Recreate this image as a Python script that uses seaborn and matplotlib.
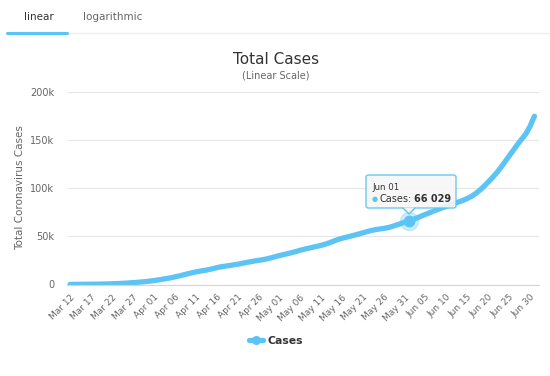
import numpy as np
import pandas as pd
import matplotlib
matplotlib.use("Agg")
import matplotlib.pyplot as plt
import matplotlib.dates as mdates
from matplotlib.lines import Line2D
from matplotlib.patches import FancyBboxPatch, Polygon
from matplotlib.ticker import FuncFormatter
import seaborn as sns

# ---- data (thousands of cases, Mar 12 .. Jul 01) ----
start_date = "2020-03-12"
cases_k = [
    0.1, 0.12, 0.15, 0.2, 0.25,
    0.3, 0.35, 0.42, 0.5, 0.6,
    0.75, 0.9, 1.1, 1.3, 1.6,
    1.9, 2.2, 2.6, 3.0, 3.5,
    4.0, 4.7, 5.4, 6.1, 6.9,
    7.8, 8.8, 9.9, 11.0, 12.0,
    13.0, 13.8, 14.5, 15.3, 16.3,
    17.4, 18.3, 19.0, 19.6, 20.3,
    21.0, 21.8, 22.7, 23.5, 24.3,
    25.0, 25.7, 26.5, 27.6, 28.8,
    30.0, 31.0, 32.0, 33.1, 34.2,
    35.5, 36.6, 37.6, 38.6, 39.6,
    40.6, 41.8, 43.3, 45.0, 46.6,
    47.9, 49.0, 50.1, 51.2, 52.4,
    53.6, 54.9, 56.0, 56.9, 57.6,
    58.2, 59.0, 60.2, 61.7, 63.1, 64.6,
    66.029,
    67.5, 69.2, 71.0, 72.8, 74.5,
    76.3, 78.0, 79.6, 81.1, 82.7,
    84.2, 85.8, 87.4, 89.3, 91.5,
    94.5, 98.0, 102.0, 106.5, 111.0,
    116.0, 121.5, 127.5, 133.5, 139.5,
    145.5, 151.0, 156.5, 164.5, 174.5,
]
dates = pd.date_range(start_date, periods=len(cases_k), freq="D")
df = pd.DataFrame({"date": dates, "cases": np.array(cases_k) * 1000})

tab_labels = ["linear", "logarithmic"]
title = "Total Cases"
subtitle = "(Linear Scale)"
ylabel = "Total Coronavirus Cases"
yticks = [0, 50000, 100000, 150000, 200000]
tooltip_date = "2020-06-01"
tooltip_value = 66029

LINE = "#5cc4f4"
W, H = 550, 376

sns.set_style("white")
plt.rcParams["font.family"] = ["DejaVu Sans"]

fig = plt.figure(figsize=(W / 100, H / 100), dpi=100)
ax = fig.add_axes([66.7 / W, 1 - 284.5 / H, (539 - 66.7) / W, (284.5 - 91.7) / H])

sns.lineplot(data=df, x="date", y="cases", ax=ax, color=LINE, linewidth=3.8,
             solid_capstyle="round", solid_joinstyle="round")

t0 = mdates.date2num(dates[0])
ax.set_xlim(t0 - 0.8, t0 + 112.1)
ax.set_ylim(0, 200000)

# axes styling
for s in ["top", "right", "left"]:
    ax.spines[s].set_visible(False)
ax.spines["bottom"].set_color("#ccd6eb")
ax.spines["bottom"].set_linewidth(0.8)
ax.set_yticks(yticks)
ax.yaxis.set_major_formatter(FuncFormatter(lambda v, p: "0" if v == 0 else f"{int(v/1000)}k"))
ax.grid(axis="y", color="#e6e6e6", linewidth=0.8)
ax.grid(axis="x", visible=False)
ax.tick_params(axis="y", length=0, labelsize=7, labelcolor="#666666", pad=9)
ticks = pd.date_range(start_date, "2020-06-30", freq="5D")
ax.set_xticks(ticks)
ax.set_xticklabels([d.strftime("%b %d") for d in ticks], rotation=45, ha="right",
                   rotation_mode="anchor", fontsize=6.5, color="#666666")
ax.tick_params(axis="x", length=0, pad=6)
ax.set_xlabel("")
ax.set_ylabel("")

# tooltip point with halo
tx = mdates.date2num(pd.Timestamp(tooltip_date))
ax.plot([tx], [tooltip_value], "o", ms=13, color=LINE, alpha=0.3, zorder=5)
ax.plot([tx], [tooltip_value], "o", ms=7.5, color=LINE, zorder=6)

# texts in figure coordinates
def fx(x):
    return x / W

def fy(y):
    return 1 - y / H

fig.text(fx(39), fy(17), tab_labels[0], ha="center", va="center", fontsize=7.5, color="#333333")
fig.text(fx(113), fy(17), tab_labels[1], ha="center", va="center", fontsize=7.5, color="#666666")
fig.add_artist(Line2D([fx(67), fx(550)], [fy(33), fy(33)], color="#eeeeee", linewidth=1))
fig.add_artist(Line2D([fx(7), fx(67)], [fy(33), fy(33)], color=LINE, linewidth=2.2))

fig.text(fx(276), fy(59), title, ha="center", va="center", fontsize=11, color="#333333")
fig.text(fx(276), fy(76), subtitle, ha="center", va="center", fontsize=7, color="#666666")
fig.text(fx(20), fy(188), ylabel, ha="center", va="center", rotation=90,
         fontsize=7.5, color="#666666")

# tooltip box
bx0, by0, bx1, by1 = 366, 175, 456, 208
box = FancyBboxPatch((fx(bx0), fy(by1)), fx(bx1 - bx0), (by1 - by0) / H,
                     boxstyle="round,pad=0,rounding_size=0.005",
                     transform=fig.transFigure, facecolor="#f7f7f7", edgecolor=LINE,
                     linewidth=1, alpha=0.9, zorder=10)
fig.add_artist(box)
tri = Polygon([(fx(403), fy(by1) + 0.5 / H), (fx(415), fy(by1) + 0.5 / H), (fx(409), fy(214))],
              closed=True, transform=fig.transFigure, facecolor="#f7f7f7",
              edgecolor="none", alpha=0.9, zorder=11)
fig.add_artist(tri)
fig.add_artist(Line2D([fx(403), fx(409), fx(415)], [fy(by1), fy(214), fy(by1)],
                      color=LINE, linewidth=1, zorder=12))
fig.text(fx(372), fy(187), pd.Timestamp(tooltip_date).strftime("%b %d"), ha="left",
         va="center", fontsize=6.2, color="#333333", zorder=13)
fig.text(fx(375), fy(199.5), "\u25cf", ha="center", va="center", fontsize=5,
         color=LINE, zorder=13)
fig.text(fx(379), fy(199.5), "Cases:", ha="left", va="center", fontsize=7,
         color="#333333", zorder=13)
fig.text(fx(451), fy(199.5), f"{tooltip_value:,}".replace(",", " "), ha="right",
         va="center", fontsize=7, color="#333333", fontweight="bold", zorder=13)

# legend
handle = Line2D([], [], color=LINE, linewidth=3.8, marker="o", markersize=5.5)
leg = fig.legend([handle], ["Cases"], loc="center", bbox_to_anchor=(fx(276), fy(341)),
                 frameon=False, handlelength=1.3, handletextpad=0.5,
                 prop={"size": 7.8, "weight": "bold"})
for t in leg.get_texts():
    t.set_color("#333333")

fig.savefig("out.png", dpi=100, facecolor="white")
